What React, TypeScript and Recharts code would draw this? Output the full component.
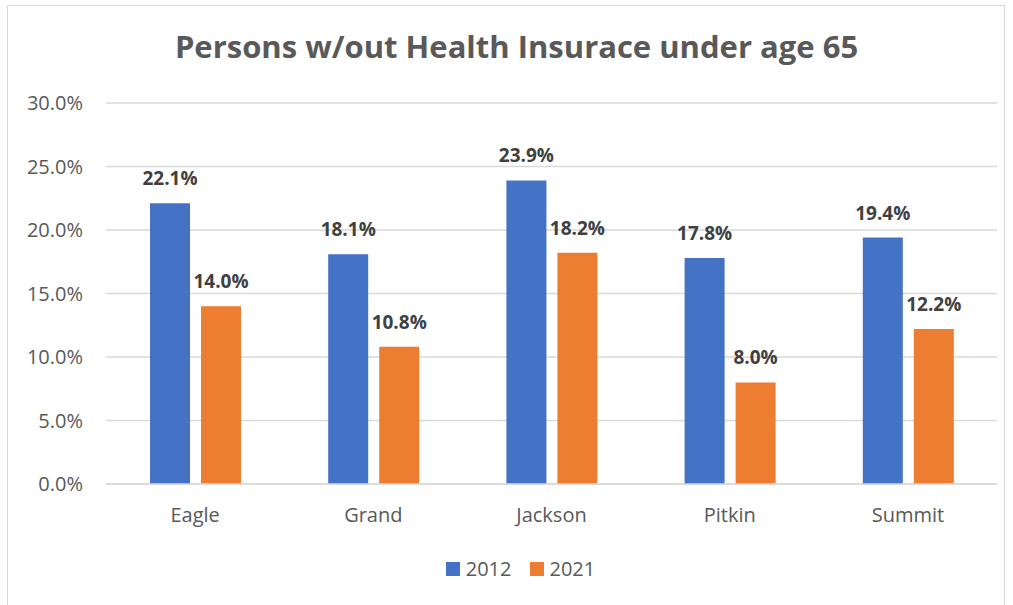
import { Bar, BarChart, CartesianGrid, LabelList, XAxis, YAxis } from "recharts"

const counties = ["Eagle", "Grand", "Jackson", "Pitkin", "Summit"]
const rate2012 = [22.1, 18.1, 23.9, 17.8, 19.4]
const rate2021 = [14.0, 10.8, 18.2, 8.0, 12.2]
const yTicks = [0, 5, 10, 15, 20, 25, 30]

const data = counties.map((county, i) => ({
  county,
  y2012: rate2012[i],
  y2021: rate2021[i],
}))

const FONT = "'Open Sans', sans-serif"
const BLUE = "#4472C4"
const ORANGE = "#ED7D31"

const pct = (v: any) => `${Number(v).toFixed(1)}%`

function LegendContent() {
  const items = [
    { label: "2012", color: BLUE },
    { label: "2021", color: ORANGE },
  ]
  return (
    <div style={{ display: "flex", justifyContent: "center", gap: 18, fontFamily: FONT, fontSize: 20, color: "#595959" }}>
      {items.map((it) => (
        <div key={it.label} style={{ display: "flex", alignItems: "center", gap: 6 }}>
          <div style={{ width: 14, height: 14, background: it.color }} />
          <span>{it.label}</span>
        </div>
      ))}
    </div>
  )
}

export default function App() {
  return (
    <div style={{ position: "absolute", left: 0, top: 0, width: 1013, height: 605, background: "#fff", overflow: "hidden" }}>
      <div style={{ position: "absolute", left: 7, top: 5, width: 996, height: 620, border: "1px solid #d9d9d9" }} />
      <div
        style={{
          position: "absolute",
          left: 20,
          width: 993,
          top: 25,
          textAlign: "center",
          fontFamily: FONT,
          fontWeight: 700,
          fontSize: 31,
          color: "#595959",
        }}
      >
        Persons w/out Health Insurace under age 65
      </div>
      <div style={{ position: "absolute", left: 0, top: 0 }}>
        <BarChart width={1013} height={605} data={data} barGap={11} margin={{ top: 103, right: 16, left: 0, bottom: 91 }}>
          <CartesianGrid vertical={false} stroke="#d9d9d9" strokeWidth={1.5} />
          <XAxis
            dataKey="county"
            height={30}
            axisLine={{ stroke: "#d9d9d9", strokeWidth: 1.5 }}
            tickLine={false}
            tickSize={0}
            tickMargin={24}
            tick={{ fill: "#595959", fontSize: 20, fontFamily: FONT }}
          />
          <YAxis
            width={106}
            domain={[0, 30]}
            ticks={yTicks}
            axisLine={false}
            tickLine={false}
            tickSize={0}
            tickMargin={23}
            tickFormatter={pct}
            tick={{ fill: "#595959", fontSize: 20, fontFamily: FONT }}
          />
          <Bar dataKey="y2012" name="2012" fill={BLUE} barSize={40} isAnimationActive={false}>
            <LabelList dataKey="y2012" position="top" offset={18} formatter={pct} fill="#404040" fontSize={19} fontWeight={700} fontFamily={FONT} />
          </Bar>
          <Bar dataKey="y2021" name="2021" fill={ORANGE} barSize={40} isAnimationActive={false}>
            <LabelList dataKey="y2021" position="top" offset={18} formatter={pct} fill="#404040" fontSize={19} fontWeight={700} fontFamily={FONT} />
          </Bar>
        </BarChart>
      </div>
      <div style={{ position: "absolute", left: 14, width: 1013, top: 555 }}>
        <LegendContent />
      </div>
    </div>
  )
}
